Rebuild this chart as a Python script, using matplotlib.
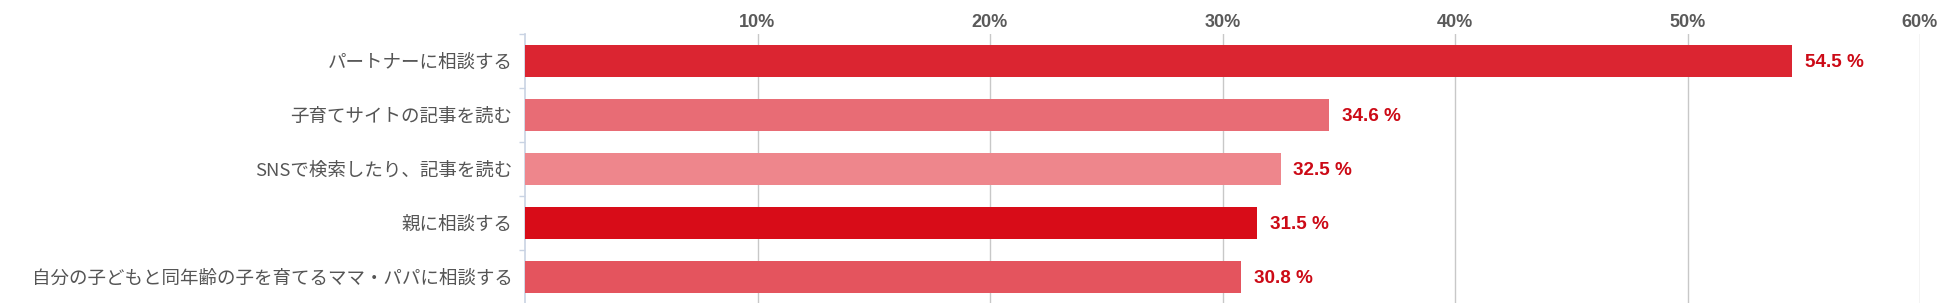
import matplotlib
matplotlib.use("Agg")
import matplotlib.pyplot as plt
from matplotlib.ticker import FixedLocator

# Data
categories = [
    "パートナーに相談する",
    "子育てサイトの記事を読む",
    "SNSで検索したり、記事を読む",
    "親に相談する",
    "自分の子どもと同年齢の子を育てるママ・パパに相談する",
]
values = [54.5, 34.6, 32.5, 31.5, 30.8]
bar_colors = ["#db2531", "#e86c75", "#ee868c", "#d80c18", "#e4545e"]
x_ticks = [10, 20, 30, 40, 50, 60]
x_tick_labels = ["10%", "20%", "30%", "40%", "50%", "60%"]

plt.rcParams['font.family'] = ['Noto Sans CJK JP', 'DejaVu Sans']

fig = plt.figure(figsize=(19.5, 3.03), dpi=100)
ax = fig.add_axes([525 / 1950, -1 / 303, (1920 - 525) / 1950, 1 - 33 / 303])

y = list(range(len(categories)))
ax.barh(y, values, height=0.6, color=bar_colors, zorder=3)

# Value labels next to the bars
for yi, v in zip(y, values):
    ax.text(v + 0.55, yi + 0.03, f"{v} %", va="center", ha="left",
            fontsize=13.6, fontweight="bold", color="#cc0a16",
            family=["Liberation Sans", "DejaVu Sans"])

ax.set_xlim(0, 60)
ax.set_ylim(len(categories) - 0.5, -0.5)

# X axis on top, bold percent labels, no tick marks
ax.xaxis.tick_top()
ax.set_xticks(x_ticks)
ax.set_xticklabels(x_tick_labels, fontsize=13, fontweight="bold", color="#5a5a5a",
                   family=["Liberation Sans", "DejaVu Sans"])
ax.tick_params(axis="x", length=0, pad=2)
ax.grid(axis="x", color="#c8c8c8", linewidth=1.0, zorder=0)

# Y labels, with small ticks between categories
ax.set_yticks(y)
ax.set_yticklabels(categories, fontsize=13.3, color="#555555")
ax.tick_params(axis="y", which="major", length=0, pad=9)
ax.yaxis.set_minor_locator(FixedLocator([i - 0.5 for i in range(len(categories) + 1)]))
ax.tick_params(axis="y", which="minor", length=4, width=1, color="#c9d3e3")

for side in ["top", "right", "bottom"]:
    ax.spines[side].set_visible(False)
ax.spines["left"].set_color("#c9d3e3")
ax.spines["left"].set_linewidth(1.2)

fig.savefig("out.png", dpi=100)
